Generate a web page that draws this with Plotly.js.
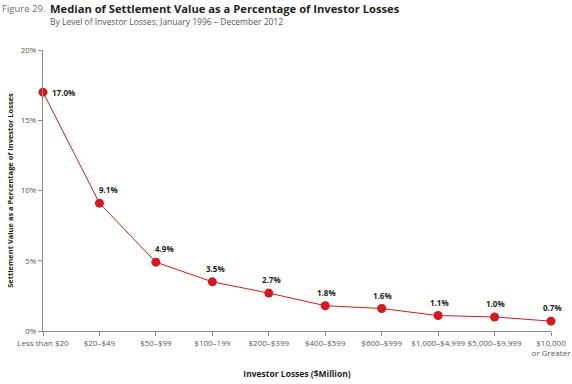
<!DOCTYPE html>
<html><head><meta charset="utf-8">
<script src="https://cdn.plot.ly/plotly-3.0.1.min.js"></script>
<style>html,body{margin:0;padding:0;background:#fff}#c{width:572px;height:384px}</style>
</head><body><div id="c"></div>
<script>
const categories = ["Less than $20","$20–$49","$50–$99","$100–199","$200–$399","$400–$599","$600–$999","$1,000–$4,999","$5,000–$9,999","$10,000<br>or Greater"];
const values = [17.0, 9.1, 4.9, 3.5, 2.7, 1.8, 1.6, 1.1, 1.0, 0.7];
const labels = ["17.0%","9.1%","4.9%","3.5%","2.7%","1.8%","1.6%","1.1%","1.0%","0.7%"];
const yTicks = [0,5,10,15,20];
const yTickText = ["0%","5%","10%","15%","20%"];

const xIdx = categories.map((c,i)=>i);
const red = "#d7191f";
const trace = {
  x: xIdx, y: values, type: "scatter", mode: "lines+markers",
  line: {color: red, width: 1}, marker: {color: red, size: 9},
  hoverinfo: "none", cliponaxis: false
};
const ann = values.map((v,i)=>({
  x: i, y: v, xref: "x", yref: "y", text: "<b>"+labels[i]+"</b>", showarrow: false,
  xanchor: i===0 ? "left" : "center", yanchor: i===0 ? "middle" : "bottom",
  xshift: i===0 ? 7 : (i<3 ? 9 : (i<5 ? 3 : 1)), yshift: i===0 ? 0 : 6,
  font: {family: "Open Sans, sans-serif", size: 8, color: "#231f20"}
}));
ann.push({xref:"paper",yref:"paper",x:-43/508,y:1+42/281,xanchor:"left",yanchor:"middle",showarrow:false,
  text:"Figure 29.", font:{family:"Open Sans, sans-serif",size:9.5,color:"#6d6e71"}});
ann.push({xref:"paper",yref:"paper",x:5/508,y:1+42/281,xanchor:"left",yanchor:"middle",showarrow:false,
  text:"<b>Median of Settlement Value as a Percentage of Investor Losses</b>", font:{family:"Open Sans, sans-serif",size:11.2,color:"#231f20"}});
ann.push({xref:"paper",yref:"paper",x:5/508,y:1+29/281,xanchor:"left",yanchor:"middle",showarrow:false,
  text:"By Level of Investor Losses; January 1996 – December 2012", font:{family:"Open Sans, sans-serif",size:8.5,color:"#58595b"}});

const layout = {
  width: 572, height: 384, margin: {l: 43, r: 21, t: 50, b: 53},
  paper_bgcolor: "#fff", plot_bgcolor: "#fff", showlegend: false,
  font: {family: "Open Sans, sans-serif", color: "#595959"},
  xaxis: {
    range: [0, 9], tickvals: xIdx, ticktext: categories,
    showgrid: false, zeroline: false, showline: true, linecolor: "#8c8c8c", linewidth: 1,
    ticks: "outside", ticklen: 4, tickcolor: "#8c8c8c",
    tickfont: {size: 8, color: "#595959"},
    title: {text: "<b>Investor Losses ($Million)</b>", standoff: 14, font: {size: 8.5, color: "#231f20"}}
  },
  yaxis: {
    range: [0, 20], tickvals: yTicks, ticktext: yTickText,
    showgrid: false, zeroline: false, showline: true, linecolor: "#8c8c8c", linewidth: 1,
    ticks: "outside", ticklen: 4, tickcolor: "#8c8c8c",
    tickfont: {size: 8, color: "#595959"},
    title: {text: "<b>Settlement Value as a Percentage of Investor Losses</b>", standoff: 6, font: {size: 7.5, color: "#231f20"}}
  },
  annotations: ann
};
Plotly.newPlot("c", [trace], layout, {displayModeBar: false, staticPlot: true});
</script></body></html>
